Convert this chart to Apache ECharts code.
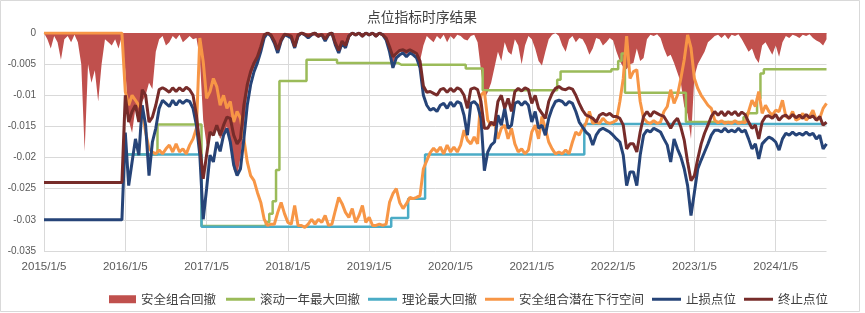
<!DOCTYPE html>
<html>
<head>
<meta charset="utf-8">
<script src="https://cdn.jsdelivr.net/npm/echarts@6/dist/echarts.min.js"></script>
<style>
html,body{margin:0;padding:0;background:#fff;}
#chart{width:865px;height:313px;}
</style>
</head>
<body>
<div id="chart"></div>
<script>
// Semi-monthly sample dates: 5th and 20th of each month, from 2015/1/5
const startYear = 2015;
const pointCount = 232;
const categories = [];
for (let k = 0; k < pointCount; k++) {
  const y = startYear + Math.floor(k / 24);
  const m = Math.floor((k % 24) / 2) + 1;
  const d = (k % 2 === 0) ? 5 : 20;
  categories.push(y + '/' + m + '/' + d);
}

const seriesNames = ['安全组合回撤', '滚动一年最大回撤', '理论最大回撤', '安全组合潜在下行空间', '止损点位', '终止点位'];

// 安全组合回撤
const safeDrawdown = [
0,-0.001,-0.0025,-0.0005,-0.0015,-0.0043,-0.001,-0.0005,-0.0015,-0.0003,-0.0015,-0.005,-0.019,-0.005,-0.008,-0.006,-0.011,-0.005,-0.001,-0.0015,-0.002,-0.001,-0.0025,-0.0005,
-0.006,-0.014,-0.016,-0.012,-0.014,-0.011,-0.010,-0.008,-0.009,-0.003,-0.001,-0.0005,-0.002,-0.0015,-0.0005,-0.001,-0.0003,-0.0015,-0.001,-0.0005,-0.001,-0.0008,-0.004,-0.014,
-0.018,-0.016,-0.016,-0.015,-0.017,-0.016,-0.015,-0.017,-0.022,-0.023,-0.02,-0.015,-0.01,-0.007,-0.0055,-0.0045,-0.0025,-0.0005,0,-0.0005,-0.0015,-0.003,-0.0012,-0.0003,
-0.0003,-0.0008,-0.0025,-0.0005,0,-0.0003,-0.0008,-0.0002,-0.0005,-0.0008,-0.0003,-0.0012,-0.0003,0,-0.002,-0.0033,-0.0015,-0.0025,-0.0005,0,-0.0005,-0.0002,-0.0008,0,
-0.0005,0,-0.0008,-0.0002,-0.0005,-0.001,-0.0028,-0.005,-0.0035,-0.003,-0.003,-0.0035,-0.0028,-0.0032,-0.0035,-0.0045,-0.002,-0.0005,-0.001,-0.0015,-0.0005,-0.001,-0.0003,-0.0015,
-0.0005,-0.001,-0.0003,-0.0005,-0.001,-0.0012,-0.0005,-0.0003,-0.0015,-0.006,-0.0105,-0.0095,-0.008,-0.0055,-0.003,-0.0045,-0.0015,-0.003,-0.0035,-0.001,-0.002,-0.005,-0.002,-0.0005,
-0.001,-0.0025,-0.0045,-0.0052,-0.003,-0.001,-0.0003,0,-0.0005,-0.002,-0.003,-0.001,-0.0005,-0.0015,-0.0008,-0.001,-0.002,-0.0035,-0.0025,-0.0008,-0.001,-0.002,-0.0015,-0.0008,
-0.0012,-0.003,-0.0045,-0.0055,-0.0058,-0.005,-0.0048,-0.0025,-0.0045,-0.004,-0.001,-0.0003,-0.0005,-0.0002,-0.0008,-0.0025,-0.0038,-0.0035,-0.0048,-0.0064,-0.008,-0.0118,-0.013,-0.017,
-0.007,-0.005,-0.004,-0.003,-0.0015,-0.001,-0.0005,-0.0003,-0.0008,-0.0003,-0.001,-0.0003,-0.0005,-0.0002,-0.001,-0.002,-0.003,-0.0025,-0.004,-0.0048,-0.002,-0.0015,-0.0025,-0.0035,
-0.002,-0.0038,-0.0015,-0.0005,-0.0008,-0.0003,-0.0005,-0.0008,-0.0003,-0.0005,-0.0002,-0.0008,-0.0012,-0.0015,-0.002,-0.001
];

// 滚动一年最大回撤
const rollingMaxDD = [
null,null,null,null,null,null,null,null,null,null,null,null,null,null,null,null,null,null,null,null,null,null,null,null,
-0.0195,-0.0195,-0.0195,-0.0195,-0.0195,-0.0195,-0.0195,-0.0195,-0.0195,-0.0195,-0.0147,-0.0147,-0.0147,-0.0147,-0.0147,-0.0147,-0.0147,-0.0147,-0.0147,-0.0147,-0.0147,-0.0147,-0.0147,-0.031,
-0.031,-0.031,-0.031,-0.031,-0.031,-0.031,-0.031,-0.031,-0.031,-0.031,-0.031,-0.031,-0.031,-0.031,-0.031,-0.031,-0.031,-0.031,-0.0304,-0.029,-0.027,-0.022,-0.0077,-0.0077,
-0.0077,-0.0077,-0.0077,-0.0077,-0.0077,-0.0077,-0.0043,-0.0043,-0.0043,-0.0043,-0.0043,-0.0043,-0.0043,-0.0043,-0.0043,-0.0048,-0.0048,-0.0048,-0.0048,-0.0048,-0.0048,-0.0048,-0.0048,-0.0048,
-0.0048,-0.0048,-0.0048,-0.0048,-0.0048,-0.0048,-0.0048,-0.0048,-0.0048,-0.0051,-0.0051,-0.0051,-0.0051,-0.0051,-0.0051,-0.0051,-0.0051,-0.0051,-0.0051,-0.0051,-0.0051,-0.0051,-0.0051,-0.0051,
-0.0051,-0.0051,-0.0051,-0.0051,-0.0051,-0.0057,-0.0057,-0.0057,-0.0057,-0.0057,-0.0092,-0.0092,-0.0092,-0.0092,-0.0092,-0.0092,-0.0092,-0.0092,-0.0092,-0.0092,-0.0092,-0.0092,-0.0092,-0.0092,
-0.0092,-0.0092,-0.0092,-0.0092,-0.0092,-0.0092,-0.0092,-0.0092,-0.0075,-0.0062,-0.0062,-0.0062,-0.0062,-0.0062,-0.0062,-0.0062,-0.0062,-0.0062,-0.0062,-0.0062,-0.0062,-0.0062,-0.0062,-0.0062,
-0.0058,-0.0058,-0.0045,-0.0033,-0.0096,-0.0096,-0.0096,-0.0096,-0.0096,-0.0096,-0.0096,-0.0096,-0.0096,-0.0096,-0.0096,-0.0096,-0.0096,-0.0096,-0.0096,-0.0096,-0.0096,-0.0096,-0.0143,-0.0143,
-0.0143,-0.0143,-0.0143,-0.0143,-0.0143,-0.0143,-0.0143,-0.0143,-0.0143,-0.0143,-0.0143,-0.0143,-0.0143,-0.0143,-0.0143,-0.0135,-0.0129,-0.0129,-0.0129,-0.0105,-0.0065,-0.0058,-0.0058,-0.0058,
-0.0058,-0.0058,-0.0058,-0.0058,-0.0058,-0.0058,-0.0058,-0.0058,-0.0058,-0.0058,-0.0058,-0.0058,-0.0058,-0.0058,-0.0058,-0.0058
];

// 理论最大回撤
const theoryMaxDD = [
null,null,null,null,null,null,null,null,null,null,null,null,null,null,null,null,null,null,null,null,null,null,null,null,
-0.0195,-0.0195,-0.0195,-0.0195,-0.0195,-0.0195,-0.0195,-0.0195,-0.0195,-0.0195,-0.0195,-0.0195,-0.0195,-0.0195,-0.0195,-0.0195,-0.0195,-0.0195,-0.0195,-0.0195,-0.0195,-0.0195,-0.0195,-0.0311,
-0.0311,-0.0311,-0.0311,-0.0311,-0.0311,-0.0311,-0.0311,-0.0311,-0.0311,-0.0311,-0.0311,-0.0311,-0.0311,-0.0311,-0.0311,-0.0311,-0.0311,-0.0311,-0.0311,-0.0311,-0.0311,-0.0311,-0.0311,-0.0311,
-0.0311,-0.0311,-0.0311,-0.0311,-0.0311,-0.0311,-0.0311,-0.0311,-0.0311,-0.0311,-0.0311,-0.0311,-0.0311,-0.0311,-0.0311,-0.0311,-0.0311,-0.0311,-0.0311,-0.0311,-0.0311,-0.0311,-0.0311,-0.0311,
-0.0311,-0.0311,-0.0311,-0.0311,-0.0311,-0.0311,-0.0311,-0.0297,-0.0297,-0.0297,-0.0297,-0.0297,-0.0266,-0.0266,-0.0266,-0.0266,-0.0266,-0.0195,-0.0195,-0.0195,-0.0195,-0.0195,-0.0195,-0.0195,
-0.0195,-0.0195,-0.0195,-0.0195,-0.0195,-0.0195,-0.0195,-0.0195,-0.0195,-0.0195,-0.0195,-0.0195,-0.0195,-0.0195,-0.0195,-0.0195,-0.0195,-0.0195,-0.0195,-0.0195,-0.0195,-0.0195,-0.0195,-0.0195,
-0.0195,-0.0195,-0.0195,-0.0195,-0.0195,-0.0195,-0.0195,-0.0195,-0.0195,-0.0195,-0.0195,-0.0195,-0.0195,-0.0195,-0.0195,-0.0195,-0.0146,-0.0146,-0.0146,-0.0146,-0.0146,-0.0146,-0.0146,-0.0146,
-0.0146,-0.0146,-0.0146,-0.0146,-0.0146,-0.0146,-0.0146,-0.0146,-0.0146,-0.0146,-0.0146,-0.0146,-0.0146,-0.0146,-0.0146,-0.0146,-0.0146,-0.0146,-0.0146,-0.0146,-0.0146,-0.0146,-0.0146,-0.0146,
-0.0146,-0.0146,-0.0146,-0.0146,-0.0146,-0.0146,-0.0146,-0.0146,-0.0146,-0.0146,-0.0146,-0.0146,-0.0146,-0.0146,-0.0146,-0.0146,-0.0146,-0.0146,-0.0146,-0.0146,-0.0146,-0.0146,-0.0146,-0.0146,
-0.0146,-0.0146,-0.0146,-0.0146,-0.0146,-0.0146,-0.0146,-0.0146,-0.0146,-0.0146,-0.0146,-0.0146,-0.0146,-0.0146,-0.0146,-0.0146
];

// 安全组合潜在下行空间
const downsideSpace = [
0,0,0,0,0,0,0,0,0,0,0,0,0,0,0,0,0,0,0,0,0,0,0,0,
-0.0094,-0.0116,-0.010,-0.0108,-0.0116,-0.0126,-0.0159,-0.0186,-0.0191,-0.0194,-0.0188,-0.0194,-0.0186,-0.018,-0.0191,-0.0178,-0.0191,-0.0186,-0.0194,-0.018,-0.017,-0.0153,-0.0008,-0.0046,
-0.0105,-0.0094,-0.0073,-0.0086,-0.0116,-0.010,-0.0121,-0.011,-0.0143,-0.0126,-0.0137,-0.017,-0.0207,-0.0229,-0.0237,-0.0256,-0.0272,-0.0299,-0.0309,-0.0307,-0.0307,-0.0288,-0.0272,-0.029,
-0.0304,-0.0307,-0.0277,-0.0309,-0.0309,-0.0312,-0.0307,-0.0299,-0.0307,-0.0299,-0.0304,-0.0293,-0.0309,-0.0307,-0.0285,-0.0264,-0.0274,-0.0288,-0.0296,-0.0282,-0.0304,-0.0293,-0.0277,-0.0304,
-0.0296,-0.0309,-0.0309,-0.0307,-0.0309,-0.0307,-0.0272,-0.0258,-0.025,-0.0272,-0.0282,-0.0274,-0.0264,-0.0266,-0.0264,-0.0261,-0.0218,-0.0205,-0.0192,-0.0185,-0.0191,-0.0183,-0.0194,-0.018,
-0.0191,-0.0183,-0.0191,-0.018,-0.0156,-0.0172,-0.0178,-0.0167,-0.0178,-0.010,-0.0094,-0.014,-0.0148,-0.0143,-0.017,-0.0153,-0.0148,-0.017,-0.0153,-0.0178,-0.0191,-0.0186,-0.0194,-0.0188,
-0.0159,-0.0148,-0.017,-0.0134,-0.0153,-0.0175,-0.0186,-0.0194,-0.0191,-0.0194,-0.0188,-0.0194,-0.0175,-0.0159,-0.0164,-0.0153,-0.0145,-0.0126,-0.0145,-0.0143,-0.0145,-0.0137,-0.0143,-0.0145,
-0.0143,-0.014,-0.011,-0.0073,-0.0005,-0.0073,-0.0062,-0.0059,-0.011,-0.0137,-0.0143,-0.0145,-0.0141,-0.0145,-0.0143,-0.0126,-0.0118,-0.0091,-0.0113,-0.010,-0.0073,-0.0043,-0.0003,-0.0024,
-0.0073,-0.0089,-0.010,-0.0108,-0.0116,-0.0121,-0.014,-0.0144,-0.0141,-0.0145,-0.0143,-0.0145,-0.0141,-0.0145,-0.0143,-0.0144,-0.0126,-0.0108,-0.0118,-0.0094,-0.0129,-0.0116,-0.0126,-0.0132,
-0.0124,-0.0126,-0.0108,-0.0134,-0.0137,-0.0126,-0.014,-0.0137,-0.0129,-0.014,-0.0134,-0.0124,-0.014,-0.0137,-0.0121,-0.0113
];

// 止损点位
const stopLoss = [
-0.030,-0.030,-0.030,-0.030,-0.030,-0.030,-0.030,-0.030,-0.030,-0.030,-0.030,-0.030,-0.030,-0.030,-0.030,-0.030,-0.030,-0.030,-0.030,-0.030,-0.030,-0.030,-0.030,-0.030,
-0.016,-0.0245,-0.0207,-0.017,-0.0196,-0.0116,-0.0148,-0.0229,-0.0175,-0.0153,-0.0121,-0.0108,-0.0113,-0.0118,-0.0108,-0.0116,-0.0108,-0.0113,-0.0108,-0.011,-0.0121,-0.0148,-0.0196,-0.0299,
-0.025,-0.0196,-0.0207,-0.0175,-0.019,-0.0164,-0.0153,-0.0175,-0.0212,-0.0229,-0.0218,-0.017,-0.0116,-0.0083,-0.0062,-0.0048,-0.003,-0.0008,0,-0.0005,-0.0016,-0.0032,-0.0013,-0.0003,
-0.0005,-0.0008,-0.0024,-0.0005,0,-0.0003,-0.0008,-0.0003,0,-0.0005,-0.0003,-0.0013,-0.0003,0,-0.0019,-0.0032,-0.0016,-0.0024,-0.0005,0,-0.0003,0,-0.0005,0,
-0.0003,0,-0.0005,0,-0.0003,-0.0011,-0.003,-0.0056,-0.004,-0.0035,-0.0032,-0.0038,-0.0032,-0.0035,-0.004,-0.0056,-0.010,-0.0116,-0.0124,-0.0121,-0.0126,-0.0116,-0.0113,-0.0121,
-0.0111,-0.0118,-0.011,-0.0113,-0.0132,-0.0164,-0.0113,-0.011,-0.0116,-0.0137,-0.0221,-0.0191,-0.018,-0.0175,-0.0132,-0.0148,-0.0121,-0.0153,-0.0148,-0.0113,-0.011,-0.0116,-0.011,-0.0116,
-0.0143,-0.0126,-0.0153,-0.0148,-0.0164,-0.0137,-0.0121,-0.011,-0.0108,-0.011,-0.0116,-0.011,-0.0113,-0.0126,-0.0143,-0.0151,-0.0159,-0.0164,-0.018,-0.0164,-0.0156,-0.0153,-0.0156,-0.0159,
-0.0164,-0.017,-0.0175,-0.0196,-0.0245,-0.0223,-0.0223,-0.0245,-0.0196,-0.0164,-0.0156,-0.0159,-0.0153,-0.0156,-0.0159,-0.017,-0.018,-0.0207,-0.017,-0.0186,-0.0199,-0.0218,-0.0245,-0.0293,
-0.0256,-0.0218,-0.0204,-0.0191,-0.0178,-0.0164,-0.0156,-0.0156,-0.0159,-0.0153,-0.0159,-0.0156,-0.0159,-0.0153,-0.0159,-0.0156,-0.017,-0.0186,-0.0178,-0.0202,-0.0178,-0.0172,-0.0167,-0.017,
-0.0175,-0.0188,-0.017,-0.0161,-0.0164,-0.0159,-0.0164,-0.0161,-0.0164,-0.0159,-0.0164,-0.0161,-0.017,-0.0164,-0.0186,-0.0178
];

// 终止点位
const stopEnd = [
-0.024,-0.024,-0.024,-0.024,-0.024,-0.024,-0.024,-0.024,-0.024,-0.024,-0.024,-0.024,-0.024,-0.024,-0.024,-0.024,-0.024,-0.024,-0.024,-0.024,-0.024,-0.024,-0.024,-0.024,
-0.010,-0.0143,-0.0126,-0.0116,-0.0143,-0.0091,-0.010,-0.0143,-0.0135,-0.0116,-0.0091,-0.0088,-0.0091,-0.0095,-0.0088,-0.0094,-0.0088,-0.0093,-0.0087,-0.0091,-0.010,-0.0132,-0.018,-0.0234,
-0.0196,-0.0159,-0.0164,-0.0148,-0.0164,-0.0148,-0.0135,-0.0137,-0.0164,-0.0178,-0.017,-0.0116,-0.0083,-0.0062,-0.0048,-0.0038,-0.0022,-0.0003,0,-0.0003,-0.0013,-0.0027,-0.0011,-0.0002,
-0.0003,-0.0005,-0.0022,-0.0003,0,-0.0002,-0.0005,-0.0002,0,-0.0005,-0.0002,-0.001,-0.0002,0,-0.0016,-0.0028,-0.0013,-0.002,-0.0005,0,-0.0003,0,-0.0005,0,
-0.0003,0,-0.0005,0,-0.0003,-0.0008,-0.0022,-0.0038,-0.0033,-0.0028,-0.0027,-0.003,-0.0027,-0.003,-0.0033,-0.0045,-0.0085,-0.0095,-0.0094,-0.0097,-0.010,-0.0091,-0.0089,-0.0095,
-0.0089,-0.0094,-0.0088,-0.0091,-0.010,-0.0121,-0.009,-0.0088,-0.0091,-0.011,-0.0153,-0.0153,-0.0143,-0.0148,-0.011,-0.010,-0.0121,-0.0105,-0.0126,-0.0094,-0.0089,-0.0093,-0.0088,-0.0091,
-0.0113,-0.010,-0.0121,-0.0129,-0.0137,-0.011,-0.0097,-0.0089,-0.0086,-0.009,-0.0091,-0.0088,-0.009,-0.010,-0.0113,-0.0124,-0.0132,-0.0134,-0.0137,-0.0143,-0.0132,-0.0129,-0.0132,-0.0129,
-0.0134,-0.0134,-0.0137,-0.0148,-0.0186,-0.0178,-0.0178,-0.0191,-0.0159,-0.0134,-0.0126,-0.0134,-0.0126,-0.0129,-0.0132,-0.0134,-0.0143,-0.0153,-0.0143,-0.0137,-0.0151,-0.0172,-0.0207,-0.0237,
-0.0229,-0.0202,-0.0178,-0.0161,-0.0148,-0.0134,-0.0126,-0.0132,-0.0126,-0.0133,-0.0126,-0.0131,-0.0126,-0.0133,-0.0127,-0.0131,-0.0143,-0.0153,-0.0148,-0.017,-0.0143,-0.0134,-0.0133,-0.0137,
-0.0131,-0.014,-0.0134,-0.0132,-0.0137,-0.0131,-0.0136,-0.0132,-0.0137,-0.0131,-0.0136,-0.0133,-0.014,-0.0134,-0.0148,-0.0143
];

const colors = ['#C0504D', '#9BBB59', '#4BACC6', '#F79646', '#264478', '#772C2A'];

const yearTick = function (idx, val) { return /\/1\/5$/.test(val); };

const chart = echarts.init(document.getElementById('chart'), null, { renderer: 'canvas' });

function lineSeries(name, data, color, width, step) {
  const s = {
    name: name,
    type: 'line',
    data: data,
    color: color,
    showSymbol: false,
    symbol: 'none',
    lineStyle: { color: color, width: width },
    itemStyle: { color: color },
    emphasis: { disabled: true },
    animation: false
  };
  if (step) s.step = step;
  return s;
}

const legendText = { fontSize: 12.5, color: '#404040', fontFamily: 'Noto Sans CJK SC' };

chart.setOption({
  backgroundColor: '#ffffff',
  animation: false,
  title: {
    text: '点位指标时序结果',
    left: 367,
    top: 10,
    padding: 0,
    textStyle: { fontSize: 13.75, fontWeight: 'normal', color: '#404040', fontFamily: 'Noto Sans CJK SC' }
  },
  graphic: [{
    type: 'rect',
    shape: { x: 0.5, y: 0.5, width: 859, height: 311 },
    style: { fill: 'none', stroke: '#D9D9D9', lineWidth: 1 },
    silent: true,
    z: -10
  }],
  grid: { left: 44, right: 38.5, top: 33, bottom: 62, containLabel: false },
  legend: [
    {
      data: [seriesNames[0]],
      left: 109, top: 293, padding: 0,
      icon: 'rect', itemWidth: 27, itemHeight: 8, itemGap: 8,
      textStyle: legendText
    },
    {
      data: seriesNames.slice(1),
      left: 226, top: 293, padding: 0,
      icon: 'rect', itemWidth: 29, itemHeight: 3, itemGap: 8,
      textStyle: legendText
    }
  ],
  xAxis: {
    type: 'category',
    data: categories,
    boundaryGap: false,
    axisLine: { show: true, lineStyle: { color: '#D9D9D9' } },
    axisTick: { show: false },
    axisLabel: {
      interval: yearTick,
      color: '#595959',
      fontSize: 11.5,
      fontFamily: 'Liberation Sans',
      margin: 10
    },
    splitLine: { show: true, interval: yearTick, lineStyle: { color: '#D9D9D9', width: 1 } }
  },
  yAxis: {
    type: 'value',
    min: -0.035,
    max: 0,
    interval: 0.005,
    axisLine: { show: false },
    axisTick: { show: false },
    axisLabel: { color: '#595959', fontSize: 10, fontFamily: 'Liberation Sans', margin: 8 },
    splitLine: { show: true, lineStyle: { color: '#D9D9D9', width: 1 } }
  },
  series: [
    {
      name: seriesNames[0],
      type: 'line',
      data: safeDrawdown,
      color: colors[0],
      showSymbol: false,
      symbol: 'none',
      lineStyle: { width: 0, color: colors[0] },
      itemStyle: { color: colors[0] },
      areaStyle: { color: colors[0], opacity: 1, origin: 'end' },
      emphasis: { disabled: true }
    },
    lineSeries(seriesNames[1], rollingMaxDD, colors[1], 2.5, 'middle'),
    lineSeries(seriesNames[2], theoryMaxDD, colors[2], 2.5, 'middle'),
    lineSeries(seriesNames[3], downsideSpace, colors[3], 3),
    lineSeries(seriesNames[4], stopLoss, colors[4], 3),
    lineSeries(seriesNames[5], stopEnd, colors[5], 3)
  ]
});
</script>
</body>
</html>
